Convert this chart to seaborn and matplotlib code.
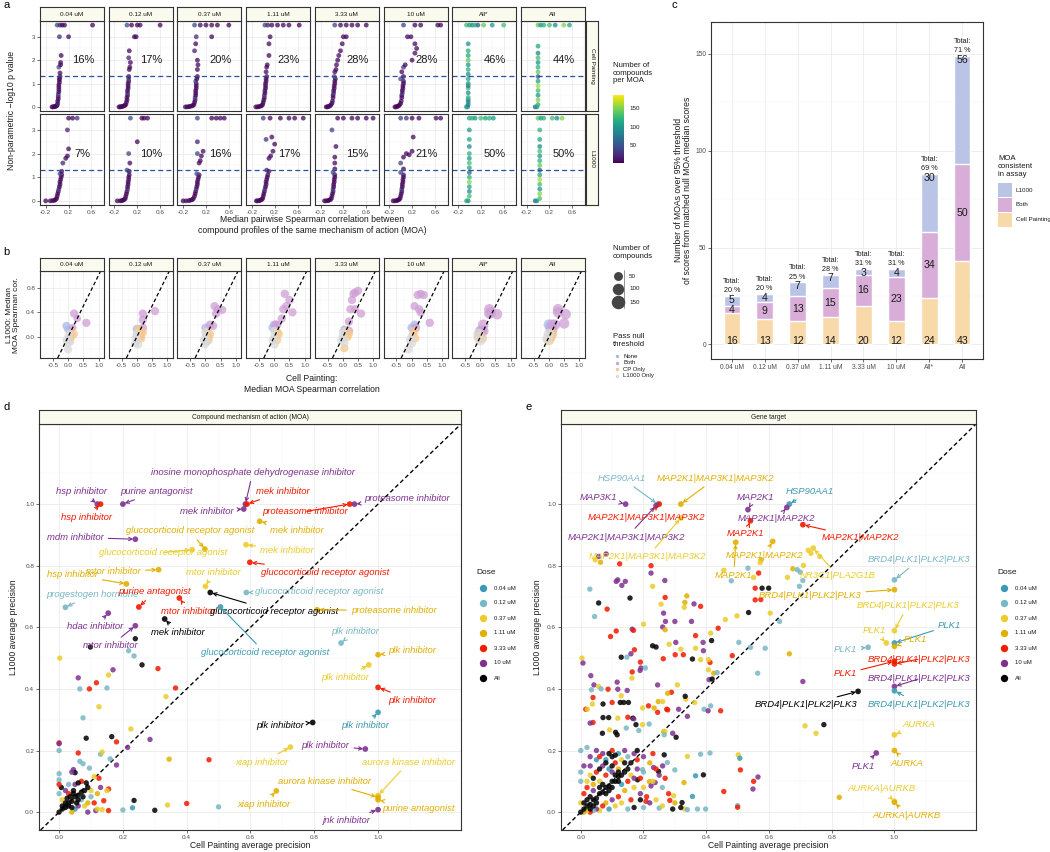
import matplotlib
matplotlib.use('Agg')
import matplotlib.pyplot as plt
import matplotlib as mpl
import numpy as np
import pandas as pd
import seaborn as sns

# ----------------------------------------------------------------- data
DOSES = ['0.04 uM', '0.12 uM', '0.37 uM', '1.11 uM', '3.33 uM', '10 uM', 'All*', 'All']

# panel a : (median pairwise spearman, -log10 p, number of compounds per MOA)
a_cp_004 = [(-0.09,0,6),(-0.07,0,5),(-0.05,0.01,7),(-0.04,0.02,5),(-0.02,0.03,6),(-0.01,0.05,5),(0.0,0.08,8),(0.01,0.15,25),(0.01,0.25,5),(0.02,0.35,6),(0.02,0.45,5),(0.02,0.55,40),(0.03,0.65,6),(0.03,0.75,5),(0.03,0.85,7),(0.03,0.95,5),(0.04,1.05,6),(0.04,1.15,5),(0.04,1.22,9),(0.05,1.3,5),(0.05,1.45,6),(0.03,1.7,45),(0.06,1.8,5),(0.06,1.9,7),(0.07,2.2,5),(0.04,3.0,25),(0.2,3.0,6),(0.0,3.5,45),(0.05,3.5,20),(0.09,3.5,6),(0.13,3.5,8),(0.62,3.5,6)]
a_cp_012 = [(-0.12,0,5),(-0.1,0,6),(-0.08,0.01,5),(-0.06,0.02,7),(-0.04,0.04,5),(-0.02,0.06,6),(0.0,0.1,5),(0.01,0.2,8),(0.02,0.3,5),(0.02,0.4,6),(0.03,0.5,5),(0.03,0.6,30),(0.03,0.7,5),(0.04,0.8,6),(0.04,0.9,5),(0.04,1.0,7),(0.05,1.1,5),(0.05,1.2,40),(0.05,1.3,6),(0.06,1.6,5),(0.07,1.7,6),(0.08,1.9,5),(0.05,2.1,20),(0.06,2.4,6),(0.15,3.0,5),(0.18,3.0,7),(0.02,3.5,50),(0.1,3.5,6),(0.2,3.5,5),(0.25,3.5,7),(0.6,3.5,6)]
a_cp_037 = [(-0.16,0,5),(-0.13,0,6),(-0.1,0.01,5),(-0.08,0.02,6),(-0.05,0.04,5),(-0.03,0.06,7),(-0.01,0.1,5),(0.0,0.2,6),(0.01,0.3,5),(0.01,0.4,30),(0.02,0.5,5),(0.02,0.6,6),(0.02,0.7,5),(0.03,0.8,7),(0.03,0.9,5),(0.03,1.0,6),(0.02,1.1,40),(0.04,1.2,5),(0.05,1.3,6),(0.05,1.6,5),(0.06,1.8,7),(0.05,2.0,5),(0.0,2.4,20),(0.02,2.7,6),(0.03,3.0,25),(0.3,3.0,5),(0.0,3.5,45),(0.1,3.5,6),(0.2,3.5,5),(0.3,3.5,7),(0.4,3.5,6),(0.6,3.5,5)]
a_cp_111 = [(-0.13,0,5),(-0.1,0,6),(-0.08,0.01,5),(-0.05,0.03,6),(-0.03,0.05,5),(-0.01,0.1,7),(0.0,0.2,5),(0.01,0.3,6),(0.02,0.4,5),(0.02,0.5,30),(0.03,0.6,5),(0.03,0.7,6),(0.04,0.8,5),(0.04,0.9,7),(0.04,1.0,5),(0.05,1.1,6),(0.05,1.2,5),(0.06,1.3,6),(0.05,1.5,7),(0.06,1.7,5),(0.07,1.8,6),(0.1,2.2,5),(0.1,2.7,6),(0.12,3.0,5),(0.03,3.5,40),(0.08,3.5,20),(0.15,3.5,6),(0.25,3.5,5),(0.35,3.5,7),(0.45,3.5,6),(0.63,3.5,5)]
a_cp_333 = [(-0.1,0,5),(-0.08,0,6),(-0.06,0.02,5),(-0.04,0.04,6),(-0.02,0.08,5),(0.0,0.15,7),(0.01,0.25,5),(0.02,0.4,6),(0.02,0.5,5),(0.03,0.6,30),(0.03,0.7,5),(0.04,0.8,6),(0.04,0.9,5),(0.05,1.0,7),(0.05,1.1,5),(0.06,1.2,6),(0.04,1.3,40),(0.05,1.5,6),(0.07,1.6,5),(0.08,1.8,6),(0.1,2.0,5),(0.12,2.2,7),(0.15,2.4,5),(0.18,2.7,6),(0.2,3.0,5),(0.25,3.0,6),(0.05,3.5,40),(0.15,3.5,6),(0.25,3.5,5),(0.35,3.5,7),(0.45,3.5,6),(0.6,3.5,5)]
a_cp_10 = [(-0.1,0,5),(-0.08,0,6),(-0.06,0.02,5),(-0.04,0.04,6),(-0.02,0.08,5),(0.0,0.15,7),(0.01,0.25,5),(0.02,0.4,6),(0.02,0.5,5),(0.03,0.6,30),(0.03,0.7,5),(0.04,0.8,6),(0.04,0.9,5),(0.05,1.0,7),(0.05,1.1,5),(0.0,1.2,40),(0.05,1.3,6),(0.02,1.5,5),(0.05,1.7,30),(0.08,1.8,6),(0.2,2.0,5),(0.25,2.3,7),(0.28,2.5,5),(0.25,2.7,6),(0.12,3.0,5),(0.18,3.0,6),(0.05,3.5,40),(0.25,3.5,6),(0.35,3.5,5),(0.65,3.5,7),(0.7,3.5,6)]
a_cp_allstar = [(-0.05,0,90),(-0.03,0,110),(-0.02,0.1,70),(-0.02,0.2,100),(-0.02,0.3,80),(-0.02,0.4,120),(-0.02,0.6,95),(-0.02,0.8,130),(-0.02,0.9,75),(-0.02,1.0,100),(-0.02,1.2,110),(-0.02,1.4,90),(-0.02,1.6,120),(-0.02,1.8,100),(-0.02,2.0,140),(-0.02,2.2,110),(-0.02,2.4,120),(-0.02,2.7,100),(-0.05,3.5,130),(0.0,3.5,110),(0.05,3.5,90),(0.1,3.5,120),(0.15,3.5,60),(0.25,3.5,140),(0.4,3.5,100),(0.6,3.5,130)]
a_cp_all = [(-0.05,0,60),(-0.02,0,100),(0.0,0.1,120),(0.0,0.3,150),(0.0,0.5,100),(0.0,0.7,130),(0.0,0.9,160),(0.0,1.1,110),(0.0,1.3,60),(0.0,1.5,140),(0.0,1.7,120),(0.0,1.9,100),(0.0,2.1,130),(0.0,2.3,90),(0.0,2.6,110),(0.0,3.5,140),(0.05,3.5,100),(0.1,3.5,120),(0.2,3.5,130),(0.3,3.5,90),(0.45,3.5,150),(0.55,3.5,110)]
a_l1_004 = [(-0.2,0,5),(-0.12,0,6),(-0.08,0.01,5),(-0.05,0.02,6),(-0.03,0.05,5),(-0.01,0.1,7),(0.0,0.2,5),(0.01,0.3,6),(0.02,0.4,5),(0.03,0.5,30),(0.04,0.6,5),(0.05,0.7,6),(0.05,0.8,5),(0.06,0.9,7),(0.07,1.0,5),(0.08,1.1,6),(0.05,1.15,40),(0.08,1.25,5),(0.1,1.6,20),(0.15,1.8,6),(0.18,1.9,5),(0.2,2.2,6),(0.18,3.0,20),(0.2,3.5,6),(0.27,3.5,5),(0.35,3.5,30)]
a_l1_012 = [(-0.15,0,5),(-0.1,0,6),(-0.07,0.01,5),(-0.05,0.03,6),(-0.03,0.05,5),(-0.01,0.1,7),(0.0,0.2,5),(0.01,0.3,6),(0.02,0.4,5),(0.03,0.5,30),(0.03,0.6,5),(0.04,0.7,6),(0.04,0.8,5),(0.05,0.9,7),(0.05,1.0,5),(0.06,1.1,6),(0.02,1.3,40),(0.06,1.25,5),(0.05,2.0,40),(0.07,1.6,6),(0.2,2.5,5),(0.08,3.5,45),(0.28,3.5,6),(0.32,3.5,5),(0.38,3.5,7)]
a_l1_037 = [(-0.2,0,5),(-0.15,0,6),(-0.1,0.01,5),(-0.07,0.03,6),(-0.04,0.05,5),(-0.02,0.1,7),(0.0,0.2,5),(0.01,0.3,6),(0.02,0.4,5),(0.03,0.5,30),(0.04,0.6,5),(0.05,0.7,6),(0.05,0.8,5),(0.06,0.9,7),(0.07,1.0,5),(0.08,1.1,6),(0.04,1.15,40),(0.08,1.6,5),(0.05,2.0,40),(0.1,1.7,6),(0.12,1.9,5),(0.15,2.1,6),(0.05,2.5,20),(0.05,3.5,45),(0.3,3.5,6),(0.38,3.5,5),(0.45,3.5,7),(0.52,3.5,6)]
a_l1_111 = [(-0.12,0,5),(-0.1,0,6),(-0.07,0.01,5),(-0.05,0.03,6),(-0.03,0.05,5),(-0.01,0.1,7),(0.0,0.2,5),(0.01,0.3,6),(0.02,0.4,5),(0.03,0.5,30),(0.04,0.6,5),(0.05,0.7,6),(0.05,0.8,5),(0.06,0.9,7),(0.07,1.0,5),(0.08,1.1,6),(0.06,1.3,20),(0.1,1.25,5),(0.1,1.8,6),(0.13,1.9,5),(0.17,2.1,6),(0.2,2.4,5),(0.15,2.7,6),(0.05,2.6,30),(0.0,3.5,40),(0.12,3.5,6),(0.3,3.5,5),(0.45,3.5,7),(0.55,3.5,6),(0.7,3.5,5)]
a_l1_333 = [(-0.13,0,5),(-0.1,0,6),(-0.07,0.01,5),(-0.05,0.03,6),(-0.03,0.05,5),(-0.01,0.1,7),(0.0,0.2,5),(0.01,0.3,6),(0.02,0.4,5),(0.02,0.5,30),(0.03,0.6,5),(0.03,0.7,6),(0.04,0.8,5),(0.04,0.9,7),(0.05,1.0,5),(0.05,1.1,6),(0.02,1.2,40),(0.05,1.35,5),(0.05,1.6,6),(0.05,1.85,5),(0.07,2.3,6),(0.0,3.0,40),(0.1,3.5,6),(0.2,3.5,5),(0.35,3.5,7),(0.45,3.5,6),(0.6,3.5,5),(0.72,3.5,6)]
a_l1_10 = [(-0.13,0,5),(-0.1,0,6),(-0.07,0.01,5),(-0.05,0.03,6),(-0.03,0.05,5),(-0.01,0.1,7),(0.0,0.2,5),(0.01,0.3,6),(0.02,0.4,5),(0.02,0.5,30),(0.03,0.6,5),(0.03,0.7,6),(0.04,0.8,5),(0.04,0.9,7),(0.05,1.0,5),(0.05,1.1,6),(0.0,1.2,40),(0.05,1.35,5),(0.0,1.6,40),(0.05,1.85,5),(0.1,2.0,6),(0.15,1.95,5),(0.2,2.1,6),(0.22,2.7,5),(0.0,3.5,40),(0.1,3.5,30),(0.2,3.5,6),(0.32,3.5,5),(0.62,3.5,7),(0.7,3.5,6)]
a_l1_allstar = [(-0.05,0,120),(-0.02,0,100),(0.0,0.2,130),(0.0,0.4,90),(0.0,0.6,110),(0.0,0.8,150),(0.0,1.0,120),(0.0,1.2,60),(0.0,1.4,110),(0.0,1.6,130),(0.0,1.8,100),(0.0,2.0,120),(0.0,2.3,90),(0.0,2.6,110),(0.0,3.0,100),(0.0,3.5,110),(0.05,3.5,120),(0.1,3.5,100),(0.2,3.5,130),(0.28,3.5,110),(0.35,3.5,120),(0.42,3.5,100)]
a_l1_all = [(-0.05,0,60),(-0.02,0,100),(0.03,0.1,130),(0.03,0.3,150),(0.03,0.5,100),(0.03,0.7,130),(0.03,0.9,160),(0.03,1.1,110),(0.03,1.3,60),(0.03,1.5,140),(0.03,1.7,120),(0.03,1.9,100),(0.03,2.1,130),(0.03,2.3,90),(0.03,2.6,110),(0.03,3.0,120),(0.0,3.5,140),(0.05,3.5,100),(0.1,3.5,120),(0.25,3.5,130),(0.33,3.5,90),(0.42,3.5,150)]
a_pct_cp = ['16%', '17%', '20%', '23%', '28%', '28%', '46%', '44%']
a_pct_l1 = ['7%', '10%', '16%', '17%', '15%', '21%', '50%', '50%']

# panel b : (CP median cor, L1000 median cor, pass-null group, number of compounds)
b_004 = [(-0.05,0.18,'None',40),(0.0,0.12,'None',30),(0.2,0.38,'Both',40),(0.3,0.3,'Both',30),(0.6,0.23,'Both',40),(0.15,0.15,'Both',30),(0.1,0.05,'CP Only',40),(0.2,0.05,'CP Only',30),(0.05,-0.05,'CP Only',40),(0.12,0.0,'CP Only',30),(0.0,-0.2,'L1000 Only',40),(0.0,0.0,'L1000 Only',30),(-0.05,-0.05,'L1000 Only',40),(0.05,0.05,'L1000 Only',30),(-0.02,-0.1,'L1000 Only',40),(0.08,-0.08,'L1000 Only',30)]
b_012 = [(0.0,0.13,'None',40),(0.2,0.38,'Both',40),(0.6,0.42,'Both',40),(0.2,0.28,'Both',40),(0.2,0.15,'Both',40),(0.1,0.1,'CP Only',40),(0.15,0.05,'CP Only',40),(0.2,0.08,'CP Only',40),(0.1,0.0,'CP Only',40),(0.15,-0.02,'CP Only',40),(0.05,0.12,'CP Only',40),(0.0,-0.05,'L1000 Only',40),(-0.05,-0.1,'L1000 Only',40),(0.0,0.05,'L1000 Only',40),(0.05,-0.12,'L1000 Only',40),(-0.02,0.0,'L1000 Only',40)]
b_037 = [(0.0,0.15,'None',40),(0.3,0.5,'Both',40),(0.4,0.45,'Both',40),(0.35,0.38,'Both',40),(0.55,0.44,'Both',40),(0.15,0.2,'Both',40),(0.25,0.18,'Both',40),(0.1,0.0,'CP Only',40),(0.1,-0.05,'CP Only',40),(0.05,0.08,'CP Only',40),(0.15,0.05,'CP Only',40),(0.0,0.0,'L1000 Only',40),(-0.05,-0.05,'L1000 Only',40),(0.0,0.08,'L1000 Only',40),(-0.02,-0.12,'L1000 Only',40),(0.05,-0.08,'L1000 Only',40)]
b_111 = [(0.0,0.2,'None',40),(-0.05,0.15,'None',40),(0.35,0.7,'Both',40),(0.5,0.6,'Both',40),(0.3,0.45,'Both',40),(0.4,0.5,'Both',40),(0.6,0.4,'Both',40),(0.25,0.3,'Both',40),(0.1,0.2,'Both',40),(0.05,0.2,'Both',40),(0.1,-0.05,'CP Only',40),(0.15,0.05,'CP Only',40),(0.1,0.08,'CP Only',40),(0.0,0.0,'L1000 Only',40),(-0.05,-0.05,'L1000 Only',40),(0.0,0.1,'L1000 Only',40),(0.02,-0.12,'L1000 Only',40)]
b_333 = [(0.05,0.12,'None',40),(0.5,0.75,'Both',40),(0.4,0.72,'Both',40),(0.3,0.6,'Both',40),(0.35,0.7,'Both',40),(0.25,0.45,'Both',40),(0.4,0.45,'Both',40),(0.6,0.38,'Both',40),(0.2,0.25,'Both',40),(0.2,0.1,'Both',40),(0.05,-0.18,'CP Only',40),(0.15,0.0,'CP Only',40),(0.2,0.05,'CP Only',40),(0.1,0.1,'CP Only',40),(0.0,0.0,'L1000 Only',40),(-0.05,-0.05,'L1000 Only',40),(0.0,0.08,'L1000 Only',40),(0.05,-0.1,'L1000 Only',40)]
b_10 = [(0.1,0.2,'None',40),(0.0,0.15,'None',40),(0.1,0.5,'Both',40),(0.2,0.68,'Both',40),(0.3,0.7,'Both',40),(0.4,0.68,'Both',40),(0.25,0.45,'Both',40),(0.3,0.4,'Both',40),(0.6,0.23,'Both',40),(0.15,0.15,'Both',40),(0.1,0.1,'CP Only',40),(0.05,0.05,'CP Only',40),(0.12,-0.02,'CP Only',40),(-0.1,-0.2,'L1000 Only',40),(0.0,0.0,'L1000 Only',40),(-0.05,-0.05,'L1000 Only',40),(0.02,-0.1,'L1000 Only',40)]
b_allstar = [(0.0,0.1,'None',80),(0.3,0.45,'Both',80),(0.35,0.4,'Both',80),(0.3,0.38,'Both',80),(0.55,0.37,'Both',80),(0.1,0.2,'Both',80),(0.05,0.1,'Both',80),(0.0,0.05,'Both',80),(0.1,0.1,'Both',80),(0.0,0.0,'CP Only',80),(-0.05,0.0,'CP Only',80),(0.05,-0.02,'CP Only',80),(0.0,-0.05,'L1000 Only',80),(-0.05,0.05,'L1000 Only',80)]
b_all = [(0.0,0.2,'None',80),(0.05,0.15,'None',80),(0.3,0.45,'Both',80),(0.3,0.4,'Both',80),(0.55,0.37,'Both',80),(0.5,0.22,'Both',80),(0.1,0.2,'Both',80),(0.2,0.2,'Both',80),(0.1,0.1,'Both',80),(0.05,0.0,'CP Only',80),(0.0,-0.05,'CP Only',80),(0.1,0.05,'CP Only',80),(0.0,0.05,'L1000 Only',80),(-0.05,-0.03,'L1000 Only',80)]
PASS_LEVELS = ['None', 'Both', 'CP Only', 'L1000 Only']

# panel c
c_cell_painting = [16, 13, 12, 14, 20, 12, 24, 43]
c_both = [4, 9, 13, 15, 16, 23, 34, 50]
c_l1000 = [5, 4, 7, 7, 3, 4, 30, 56]
c_total_pct = [20, 20, 25, 28, 31, 31, 69, 71]

# panels d / e : dose codes
DOSE_CODES = ['t', 'b', 'y', 'g', 'r', 'p', 'k']
DOSE_NAMES = ['0.04 uM', '0.12 uM', '0.37 uM', '1.11 uM', '3.33 uM', '10 uM', 'All']

d_labels = [
    (0.584,1.0,'p','inosine monophosphate dehydrogenase inhibitor'),(0.589,1.0,'r','mek inhibitor'),
    (0.12,1.0,'p','hsp inhibitor'),(0.2,1.0,'p','purine antagonist'),(0.926,1.0,'p','proteasome inhibitor'),
    (0.911,1.0,'r','proteasome inhibitor'),(0.13,1.0,'r','hsp inhibitor'),(0.579,0.984,'p','mek inhibitor'),
    (0.457,0.854,'g','glucocorticoid receptor agonist'),(0.629,0.944,'g','mek inhibitor'),(0.239,0.886,'p','mdm inhibitor'),
    (0.417,0.852,'y','glucocorticoid receptor agonist'),(0.586,0.868,'y','mek inhibitor'),(0.598,0.811,'r','glucocorticoid receptor agonist'),
    (0.211,0.741,'g','hsp inhibitor'),(0.312,0.787,'g','mtor inhibitor'),(0.459,0.733,'y','mtor inhibitor'),
    (0.02,0.665,'b','progestogen hormone'),(0.25,0.666,'r','purine antagonist'),(0.587,0.713,'b','glucocorticoid receptor agonist'),
    (0.377,0.695,'r','mtor inhibitor'),(0.474,0.713,'k','glucocorticoid receptor agonist'),(0.809,0.657,'g','proteasome inhibitor'),
    (0.154,0.646,'p','hdac inhibitor'),(0.331,0.627,'k','mek inhibitor'),(0.239,0.605,'p','mtor inhibitor'),
    (0.506,0.666,'t','glucocorticoid receptor agonist'),(0.884,0.549,'b','plk inhibitor'),(1.0,0.511,'g','plk inhibitor'),
    (0.971,0.478,'y','plk inhibitor'),(1.0,0.405,'r','plk inhibitor'),(0.795,0.291,'k','plk inhibitor'),
    (1.0,0.324,'t','plk inhibitor'),(0.96,0.205,'p','plk inhibitor'),(0.725,0.211,'y','xiap inhibitor'),
    (1.0,0.054,'y','aurora kinase inhibitor'),(1.0,0.048,'g','aurora kinase inhibitor'),(0.681,0.069,'g','xiap inhibitor'),
    (1.0,0.04,'g','purine antagonist'),(1.0,0.008,'p','jnk inhibitor')]
d_label_pos = [(0.607,1.103),(0.702,1.041),(0.070,1.041),(0.305,1.041),(1.091,1.017),(0.772,0.976),(0.086,0.957),
    (0.464,0.976),(0.41,0.913),(0.744,0.913),(0.051,0.892),(0.326,0.843),(0.715,0.85),(0.833,0.779),(0.041,0.771),
    (0.171,0.781),(0.485,0.779),(0.103,0.706),(0.30,0.715),(0.814,0.715),(0.406,0.652),(0.673,0.652),(1.049,0.654),
    (0.114,0.603),(0.372,0.583),(0.161,0.540),(0.645,0.518),(0.927,0.587),(1.106,0.524),(0.898,0.437),(1.106,0.363),
    (0.692,0.28),(0.96,0.28),(0.835,0.216),(0.636,0.162),(1.096,0.162),(0.832,0.10),(0.642,0.026),(1.127,0.011),(0.898,-0.028)]
d_points = [(0.002,0.50,'y'),(0.098,0.536,'k'),(0.239,0.563,'k'),(0.218,0.524,'b'),(0.235,0.507,'b'),(0.26,0.478,'k'),(0.31,0.466,'r'),
    (0.169,0.462,'p'),(0.06,0.436,'p'),(0.155,0.445,'y'),(0.065,0.40,'b'),(0.095,0.40,'r'),(0.117,0.42,'r'),(0.15,0.403,'b'),
    (0.365,0.403,'r'),(0.075,0.306,'b'),(0.125,0.342,'y'),(0.335,0.375,'y'),(0.165,0.245,'k'),(0.085,0.24,'k'),(0.225,0.27,'y'),
    (0.18,0.228,'r'),(0.0,0.225,'r'),(0.0,0.222,'p'),(0.0,0.2,'b'),(0.285,0.236,'p'),(0.215,0.21,'p'),(0.13,0.188,'b'),
    (0.135,0.195,'y'),(0.06,0.192,'r'),(0.16,0.173,'b'),(0.18,0.153,'p'),(0.345,0.172,'g'),(0.47,0.17,'r'),(0.065,0.165,'b'),
    (0.075,0.157,'b'),(0.0,0.125,'b'),(0.0,0.105,'b'),(0.085,0.095,'k'),(0.095,0.143,'b'),(0.125,0.11,'r'),(0.11,0.115,'y'),
    (0.155,0.075,'r'),(0.15,0.07,'y'),(0.14,0.037,'r'),(0.235,0.038,'k'),(0.3,0.006,'k'),(0.2,0.007,'b'),(0.23,0.014,'t'),
    (0.34,0.023,'y'),(0.4,0.028,'r'),(0.5,0.017,'b'),(0.155,0.005,'r'),(0.115,0.005,'p'),(0.135,0.008,'y'),(0.045,0.138,'p'),
    (0.05,0.128,'k'),(0.007,0.08,'k'),(0.02,0.02,'t'),(0.05,0.01,'t'),(0.0,0.06,'b'),(0.03,0.09,'b'),(0.07,0.04,'b'),
    (0.01,0.04,'y'),(0.08,0.02,'y'),(0.1,0.07,'y'),(0.12,0.01,'y'),(0.04,0.0,'g'),(0.09,0.03,'g'),(0.0,0.09,'r'),
    (0.03,0.06,'r'),(0.07,0.1,'r'),(0.11,0.03,'r'),(0.02,0.07,'p'),(0.05,0.09,'p'),(0.09,0.0,'p'),(0.06,0.02,'p'),
    (0.04,0.13,'p'),(0.1,0.05,'b'),(0.12,0.06,'g'),(0.13,0.08,'p'),(0.0,0.0,'k'),(0.01,0.01,'k'),(0.02,0.015,'k'),
    (0.03,0.03,'k'),(0.04,0.035,'k'),(0.05,0.05,'k'),(0.06,0.055,'k'),(0.07,0.065,'k'),(0.08,0.07,'k'),(0.02,0.03,'k'),
    (0.03,0.02,'k'),(0.045,0.06,'k'),(0.06,0.04,'k'),(0.01,0.02,'k'),(0.035,0.05,'k'),(0.055,0.03,'k'),(0.09,0.08,'k'),
    (0.04,0.015,'k'),(0.06,0.095,'k'),(0.045,0.07,'k'),(0.025,0.045,'k'),(0.075,0.05,'k')]

e_labels = [
    (0.245,1.0,'b','HSP90AA1'),(0.319,1.0,'g','MAP2K1|MAP3K1|MAP3K2'),(0.143,1.0,'p','MAP3K1'),
    (0.25,1.0,'r','MAP2K1|MAP3K1|MAP3K2'),(0.24,0.995,'p','MAP2K1|MAP3K1|MAP3K2'),(0.319,0.955,'y','MAP2K1|MAP3K1|MAP3K2'),
    (0.533,0.982,'p','MAP2K1'),(0.665,1.0,'t','HSP90AA1'),(0.657,0.989,'p','MAP2K1|MAP2K2'),(0.541,0.946,'r','MAP2K1'),
    (0.708,0.933,'r','MAP2K1|MAP2K2'),(0.612,0.879,'g','MAP2K1|MAP2K2'),(0.494,0.876,'g','MAP2K1'),(0.741,0.857,'y','NR3C1|PLA2G1B'),
    (1.0,0.754,'b','BRD4|PLK1|PLK2|PLK3'),(1.0,0.722,'g','BRD4|PLK1|PLK2|PLK3'),(1.0,0.589,'y','BRD4|PLK1|PLK2|PLK3'),
    (1.0,0.549,'t','PLK1'),(0.974,0.549,'y','PLK1'),(1.0,0.538,'g','PLK1'),(0.916,0.535,'b','PLK1'),
    (1.0,0.481,'r','BRD4|PLK1|PLK2|PLK3'),(1.0,0.49,'r','PLK1'),(1.0,0.408,'p','BRD4|PLK1|PLK2|PLK3'),
    (0.884,0.392,'k','BRD4|PLK1|PLK2|PLK3'),(1.0,0.394,'t','BRD4|PLK1|PLK2|PLK3'),(1.0,0.251,'y','AURKA'),
    (1.0,0.2,'g','AURKA'),(0.942,0.192,'p','PLK1'),(1.0,0.035,'y','AURKA|AURKB'),(1.0,0.032,'g','AURKA|AURKB')]
e_label_pos = [(0.132,1.084),(0.43,1.084),(0.055,1.022),(0.209,0.955),(0.147,0.893),(0.213,0.829),(0.556,1.022),
    (0.731,1.041),(0.625,0.952),(0.525,0.906),(0.892,0.89),(0.586,0.834),(0.488,0.768),(0.82,0.767),(1.079,0.819),
    (0.731,0.703),(1.042,0.67),(1.176,0.606),(0.935,0.59),(1.065,0.56),(0.844,0.527),(1.079,0.497),(0.842,0.449),
    (1.079,0.433),(0.718,0.348),(1.079,0.351),(1.079,0.286),(1.04,0.159),(0.902,0.148),(0.958,0.076),(1.04,-0.011)]
e_points = [(0.057,0.830,'p'),(0.081,0.838,'p'),(0.046,0.819,'y'),(0.063,0.811,'g'),(0.124,0.806,'r'),(0.224,0.800,'r'),
    (0.224,0.776,'p'),(0.229,0.733,'y'),(0.118,0.754,'p'),(0.113,0.749,'p'),(0.142,0.749,'p'),(0.131,0.736,'p'),
    (0.057,0.679,'k'),(0.157,0.695,'k'),(0.044,0.635,'b'),(0.268,0.752,'p'),(0.269,0.697,'r'),(0.256,0.675,'y'),
    (0.264,0.646,'p'),(0.27,0.619,'p'),(0.261,0.601,'p'),(0.269,0.592,'g'),(0.3,0.619,'p'),(0.332,0.681,'g'),
    (0.338,0.702,'g'),(0.33,0.665,'y'),(0.361,0.676,'p'),(0.382,0.668,'r'),(0.353,0.619,'p'),(0.303,0.551,'p'),
    (0.282,0.545,'y'),(0.366,0.573,'r'),(0.366,0.532,'y'),(0.391,0.524,'p'),(0.319,0.529,'y'),(0.301,0.511,'r'),
    (0.327,0.511,'r'),(0.356,0.497,'k'),(0.263,0.498,'r'),(0.229,0.540,'k'),(0.24,0.536,'k'),(0.129,0.503,'k'),
    (0.147,0.503,'b'),(0.095,0.570,'r'),(0.113,0.588,'r'),(0.164,0.594,'p'),(0.168,0.59,'r'),(0.2,0.61,'y'),
    (0.084,0.659,'r'),(0.029,0.724,'b'),(0.004,0.50,'y'),(0.007,0.484,'p'),(0.032,0.443,'p'),(0.042,0.413,'p'),
    (0.057,0.408,'y'),(0.065,0.400,'b'),(0.034,0.397,'b'),(0.087,0.399,'r'),(0.039,0.372,'r'),(0.037,0.351,'y'),
    (0.016,0.334,'r'),(0.021,0.334,'y'),(0.071,0.351,'k'),(0.1,0.356,'r'),(0.126,0.356,'k'),(0.137,0.356,'k'),
    (0.152,0.356,'k'),(0.129,0.378,'y'),(0.118,0.399,'p'),(0.148,0.395,'p'),(0.116,0.422,'p'),(0.163,0.435,'y'),
    (0.164,0.455,'r'),(0.189,0.46,'p'),(0.192,0.468,'p'),(0.206,0.468,'b'),(0.19,0.487,'r'),(0.171,0.527,'r'),
    (0.16,0.514,'p'),(0.071,0.307,'k'),(0.089,0.307,'k'),(0.039,0.291,'r'),(0.03,0.289,'p'),(0.069,0.256,'k'),
    (0.111,0.259,'k'),(0.116,0.251,'k'),(0.092,0.267,'y'),(0.15,0.308,'r'),(0.166,0.305,'k'),(0.169,0.303,'p'),
    (0.145,0.273,'b'),(0.185,0.265,'b'),(0.176,0.284,'k'),(0.197,0.284,'y'),(0.118,0.305,'y'),(0.216,0.345,'r'),
    (0.197,0.338,'y'),(0.234,0.338,'g'),(0.247,0.359,'g'),(0.274,0.334,'r'),(0.312,0.334,'p'),(0.34,0.311,'p'),
    (0.335,0.367,'y'),(0.363,0.356,'y'),(0.289,0.389,'r'),(0.308,0.413,'y'),(0.277,0.386,'g'),(0.245,0.413,'p'),
    (0.261,0.359,'y'),(0.277,0.332,'r'),(0.264,0.262,'y'),(0.268,0.262,'y'),(0.266,0.251,'b'),(0.293,0.256,'p'),
    (0.304,0.243,'k'),(0.333,0.376,'k'),(0.245,0.324,'r'),(0.218,0.286,'b'),(0.393,0.334,'b'),(0.406,0.329,'p'),
    (0.414,0.345,'b'),(0.446,0.329,'r'),(0.409,0.43,'p'),(0.419,0.432,'k'),(0.424,0.451,'g'),(0.435,0.453,'b'),
    (0.407,0.462,'y'),(0.412,0.486,'r'),(0.382,0.495,'y'),(0.407,0.495,'y'),(0.39,0.551,'p'),(0.417,0.557,'k'),
    (0.414,0.581,'y'),(0.438,0.597,'r'),(0.461,0.625,'y'),(0.498,0.637,'y'),(0.535,0.648,'k'),(0.604,0.646,'y'),
    (0.634,0.619,'b'),(0.504,0.551,'b'),(0.541,0.535,'b'),(0.588,0.532,'b'),(0.564,0.451,'b'),(0.483,0.508,'r'),
    (0.556,0.689,'r'),(0.556,0.727,'r'),(0.574,0.69,'r'),(0.578,0.727,'k'),(0.599,0.727,'k'),(0.567,0.776,'r'),
    (0.575,0.819,'g'),(0.48,0.751,'b'),(0.456,0.785,'y'),(0.533,0.792,'b'),(0.551,0.762,'y'),(0.572,0.81,'y'),
    (0.676,0.79,'g'),(0.71,0.801,'y'),(0.69,0.787,'b'),(0.7,0.779,'b'),(0.708,0.752,'b'),(0.697,0.733,'b'),
    (0.659,0.762,'y'),(0.665,0.514,'g'),(0.725,0.85,'y'),(0.734,0.84,'y'),(0.762,0.83,'y'),(0.708,0.424,'p'),
    (0.715,0.28,'y'),(0.75,0.256,'y'),(0.775,0.284,'k'),(0.824,0.048,'g'),(0.549,0.075,'p'),(0.551,0.1,'r'),
    (0.565,0.114,'p'),(0.5,0.021,'b'),(0.5,0.016,'r'),(0.502,0.186,'y'),(0.507,0.175,'t'),(0.509,0.137,'r'),
    (0.456,0.067,'r'),(0.391,0.121,'k'),(0.412,0.192,'b'),(0.382,0.188,'b'),(0.366,0.118,'t'),(0.34,0.181,'y'),
    (0.356,0.051,'t'),(0.329,0.096,'g'),(0.323,0.031,'k'),(0.331,0.01,'y'),(0.296,0.053,'y'),(0.3,0.137,'b'),
    (0.266,0.186,'k'),(0.261,0.15,'p'),(0.232,0.145,'p'),(0.237,0.096,'p'),(0.219,0.099,'g'),(0.248,0.132,'k'),
    (0.269,0.11,'r'),(0.276,0.161,'b'),(0.25,0.013,'b'),(0.293,0.01,'k'),(0.398,0.01,'b'),(0.372,0.01,'b'),
    (0.34,0.008,'b'),(0.319,0.015,'k'),(0.284,0.038,'r'),(0.208,0.035,'r'),(0.197,0.138,'b'),(0.181,0.105,'k'),
    (0.224,0.085,'p'),
    (0.0,0.2,'b'),(0.02,0.21,'b'),(0.05,0.17,'t'),(0.07,0.19,'p'),(0.1,0.18,'k'),(0.12,0.19,'t'),(0.08,0.17,'t'),
    (0.06,0.18,'r'),(0.03,0.15,'p'),(0.0,0.13,'b'),(0.02,0.1,'y'),(0.01,0.06,'r'),(0.04,0.09,'g'),(0.03,0.12,'y'),
    (0.05,0.13,'r'),(0.07,0.15,'p'),(0.09,0.14,'t'),(0.11,0.16,'r'),(0.13,0.17,'y'),(0.15,0.18,'b'),(0.17,0.19,'p'),
    (0.18,0.17,'r'),(0.16,0.12,'y'),(0.18,0.14,'p'),(0.19,0.11,'r'),(0.2,0.13,'b'),(0.17,0.08,'y'),(0.19,0.06,'p'),
    (0.16,0.04,'r'),(0.14,0.07,'g'),(0.13,0.03,'y'),(0.15,0.01,'b'),(0.12,0.05,'r'),(0.1,0.04,'p'),(0.11,0.02,'y'),
    (0.09,0.01,'t'),(0.08,0.03,'g'),(0.07,0.02,'r'),(0.06,0.005,'y'),(0.05,0.01,'p'),(0.04,0.005,'b'),(0.03,0.0,'r'),
    (0.02,0.005,'y'),(0.01,0.0,'g'),(0.06,0.1,'y'),(0.08,0.12,'r'),(0.1,0.13,'p'),(0.12,0.14,'g'),(0.04,0.07,'p'),
    (0.02,0.08,'r'),(0.13,0.09,'t'),(0.15,0.1,'r'),(0.17,0.11,'p'),(0.2,0.08,'y'),(0.21,0.05,'r'),(0.22,0.03,'p'),
    (0.23,0.1,'y'),(0.24,0.14,'r'),(0.25,0.12,'p'),(0.26,0.08,'b'),(0.22,0.16,'g'),(0.2,0.18,'p'),(0.18,0.2,'k'),
    (0.23,0.19,'r'),(0.14,0.2,'p'),(0.1,0.2,'r'),(0.0,0.1,'b'),(0.0,0.03,'y'),(0.01,0.15,'p'),(0.03,0.18,'p'),
    (0.05,0.2,'p'),(0.09,0.19,'k'),(0.11,0.185,'k'),(0.08,0.16,'k'),(0.06,0.14,'k'),(0.04,0.11,'k'),(0.1,0.15,'k'),
    (0.12,0.13,'k'),(0.14,0.16,'k'),(0.19,0.04,'k'),(0.17,0.015,'k'),(0.2,0.015,'b'),(0.24,0.04,'y'),(0.26,0.02,'y'),
    (0.28,0.06,'r'),(0.3,0.03,'g'),
    (0.0,0.0,'k'),(0.01,0.01,'k'),(0.02,0.02,'k'),(0.03,0.025,'k'),(0.04,0.04,'k'),(0.05,0.045,'k'),(0.06,0.06,'k'),
    (0.07,0.065,'k'),(0.08,0.08,'k'),(0.09,0.085,'k'),(0.1,0.1,'k'),(0.11,0.1,'k'),(0.12,0.115,'k'),(0.13,0.12,'k'),
    (0.02,0.04,'k'),(0.04,0.02,'k'),(0.06,0.08,'k'),(0.08,0.06,'k'),(0.1,0.08,'k'),(0.12,0.1,'k'),(0.03,0.05,'k'),
    (0.05,0.03,'k'),(0.07,0.09,'k'),(0.09,0.07,'k'),(0.11,0.12,'k'),(0.14,0.13,'k'),(0.15,0.14,'k'),(0.01,0.03,'k'),
    (0.03,0.01,'k'),(0.16,0.16,'k')]

# ----------------------------------------------------------------- style
DOSE_COLORS = ['#3B9AB2', '#78B7C5', '#EBCC2A', '#E1AF00', '#F21A00', '#7E3190', '#000000']
DOSE_PAL = dict(zip(DOSE_CODES, DOSE_COLORS))
PASS_PAL = {'None': '#A9B8E8', 'Both': '#CF9FD6', 'CP Only': '#F7C88A', 'L1000 Only': '#DADADA'}
C_COLORS = {'L1000': '#BAC4E7', 'Both': '#D8AED9', 'Cell Painting': '#F8D9AA'}
STRIP_BG = '#FAFAEE'
EDGE = '#333333'

sns.set_theme(style='white')
plt.rcParams['font.family'] = ['Liberation Sans', 'DejaVu Sans']
plt.rcParams['axes.unicode_minus'] = True

W, H = 1050, 852
fig = plt.figure(figsize=(W / 100, H / 100), dpi=100)


def px_box(x0, y0, x1, y1):
    return [x0 / W, 1 - y1 / H, (x1 - x0) / W, (y1 - y0) / H]


def ftext(x, y, s, **kw):
    fig.text(x / W, 1 - y / H, s, **kw)


def strip(x0, y0, x1, y1, text, rot=0, fs=4.6):
    sa = fig.add_axes(px_box(x0, y0, x1, y1))
    sa.set_facecolor(STRIP_BG)
    sa.set_xticks([]); sa.set_yticks([])
    for s in sa.spines.values():
        s.set_visible(True); s.set_color(EDGE); s.set_linewidth(0.8)
    sa.text(0.5, 0.5, text, ha='center', va='center', rotation=rot, fontsize=fs,
            color='#1A1A1A', transform=sa.transAxes)


def style(ax, xlim, ylim, xmaj, ymaj, xmin, ymin, showx=True, showy=True, fs=4.6, xfmt=None, yfmt=None):
    ax.set_xlim(xlim); ax.set_ylim(ylim)
    ax.set_xticks(xmaj); ax.set_yticks(ymaj)
    ax.set_xticks(xmin, minor=True); ax.set_yticks(ymin, minor=True)
    if xfmt: ax.set_xticklabels([xfmt(v) for v in xmaj])
    if yfmt: ax.set_yticklabels([yfmt(v) for v in ymaj])
    ax.grid(True, which='major', color='#EBEBEB', lw=0.6)
    ax.grid(True, which='minor', color='#F5F5F5', lw=0.35)
    ax.set_axisbelow(True)
    ax.set_facecolor('white')
    ax.tick_params(which='minor', length=0)
    ax.tick_params(which='major', length=2, width=0.5, color=EDGE, labelsize=fs,
                   labelcolor='#4D4D4D', pad=1.5, bottom=showx, left=showy,
                   labelbottom=showx, labelleft=showy)
    for s in ax.spines.values():
        s.set_visible(True); s.set_color(EDGE); s.set_linewidth(0.8)
    ax.set_xlabel(''); ax.set_ylabel('')


# ----------------------------------------------------------------- panel a
a_sets_cp = [a_cp_004, a_cp_012, a_cp_037, a_cp_111, a_cp_333, a_cp_10, a_cp_allstar, a_cp_all]
a_sets_l1 = [a_l1_004, a_l1_012, a_l1_037, a_l1_111, a_l1_333, a_l1_10, a_l1_allstar, a_l1_all]
col_x0 = [40 + i * 68.7 for i in range(8)]
col_w = 64
rows_a = [(21, 111, a_sets_cp, a_pct_cp, 'Cell Painting'), (114, 205, a_sets_l1, a_pct_l1, 'L1000')]
for r, (y0, y1, sets, pcts, rlab) in enumerate(rows_a):
    for i in range(8):
        x0 = col_x0[i]
        ax = fig.add_axes(px_box(x0, y0, x0 + col_w, y1))
        df = pd.DataFrame(sets[i], columns=['cor', 'logp', 'n'])
        sns.scatterplot(data=df, x='cor', y='logp', hue='n', palette='viridis', hue_norm=(2, 185),
                        s=12, alpha=0.75, linewidth=0, legend=False, ax=ax)
        ax.axhline(-np.log10(0.05), color='#2C4FA6', lw=0.9, ls=(0, (4, 2.5)))
        ax.text(0.45, 2.0, pcts[i], fontsize=8, ha='center', va='center', color='#1A1A1A')
        style(ax, (-0.3, 0.82), (-0.175, 3.675), [-0.2, 0.2, 0.6], [0, 1, 2, 3],
              [0.0, 0.4, 0.8], [0.5, 1.5, 2.5, 3.5], showx=(r == 1), showy=(i == 0),
              xfmt=lambda v: f'{v:.1f}'.replace('\u2212', '-'))
        if r == 0:
            strip(x0, 7, x0 + col_w, 21, DOSES[i])
    strip(586, y0, 598, y1, rlab, rot=-90)

ftext(12, 110, 'Non-parametric \u2212log10 p value', rotation=90, ha='center', va='center', fontsize=6.2, color='#1A1A1A')
ftext(312, 225, 'Median pairwise Spearman correlation between\ncompound profiles of the same mechanism of action (MOA)',
      ha='center', va='center', fontsize=6.2, color='#1A1A1A', linespacing=1.25)

# colourbar
cax = fig.add_axes(px_box(613, 95, 624, 163))
cb = fig.colorbar(mpl.cm.ScalarMappable(norm=mpl.colors.Normalize(2, 185), cmap='viridis'), cax=cax)
cb.set_ticks([50, 100, 150])
cb.outline.set_visible(False)
cax.tick_params(labelsize=4.5, length=2, color='white', pad=2, labelcolor='#1A1A1A')
ftext(613, 62, 'Number of\ncompounds\nper MOA', fontsize=5.6, va='top', ha='left', color='#1A1A1A', linespacing=1.15)

# ----------------------------------------------------------------- panel b
b_sets = [b_004, b_012, b_037, b_111, b_333, b_10, b_allstar, b_all]
for i in range(8):
    x0 = col_x0[i]
    ax = fig.add_axes(px_box(x0, 271, x0 + col_w, 358))
    df = pd.DataFrame(b_sets[i], columns=['cp', 'l1', 'grp', 'n'])
    sns.scatterplot(data=df, x='cp', y='l1', hue='grp', hue_order=PASS_LEVELS, palette=PASS_PAL,
                    size='n', sizes=(20, 100), size_norm=(10, 160), alpha=0.75, linewidth=0,
                    legend=False, ax=ax)
    ax.axline((0, 0), slope=1, color='black', lw=0.9, ls=(0, (3, 2)))
    style(ax, (-0.92, 1.18), (-0.34, 1.07), [-0.5, 0.0, 0.5, 1.0], [0.0, 0.4, 0.8],
          [-0.75, -0.25, 0.25, 0.75], [-0.2, 0.2, 0.6, 1.0], showx=True, showy=(i == 0),
          xfmt=lambda v: f'{v:.1f}', yfmt=lambda v: f'{v:.1f}')
    strip(x0, 258, x0 + col_w, 271, DOSES[i])

ftext(13, 315, 'L1000: Median\nMOA Spearman cor.', rotation=90, ha='center', va='center', fontsize=6.0,
      color='#1A1A1A', linespacing=1.1)
ftext(312, 384, 'Cell Painting:\nMedian MOA Spearman correlation', ha='center', va='center', fontsize=6.2,
      color='#1A1A1A', linespacing=1.25)

# ----------------------------------------------------------------- panel c
axc = fig.add_axes(px_box(711, 22, 983, 359))
tot_all = [a + b + c for a, b, c in zip(c_cell_painting, c_both, c_l1000)]
tot_cb = [a + b for a, b in zip(c_cell_painting, c_both)]
sns.barplot(x=DOSES, y=tot_all, color=C_COLORS['L1000'], width=0.5, saturation=1, ax=axc)
sns.barplot(x=DOSES, y=tot_cb, color=C_COLORS['Both'], width=0.5, saturation=1, ax=axc)
sns.barplot(x=DOSES, y=c_cell_painting, color=C_COLORS['Cell Painting'], width=0.5, saturation=1, ax=axc)
for i in range(8):
    axc.text(i, -0.6, str(c_cell_painting[i]), ha='center', va='bottom', fontsize=7.6, color='#1A1A1A')
    axc.text(i, c_cell_painting[i] + c_both[i] / 2, str(c_both[i]), ha='center', va='center', fontsize=7.6, color='#1A1A1A')
    axc.text(i, tot_all[i] - 1.9, str(c_l1000[i]), ha='center', va='center', fontsize=7.6, color='#1A1A1A')
    axc.text(i, tot_all[i] + 1.0, f'Total:\n{c_total_pct[i]} %', ha='center', va='bottom', fontsize=5.2,
             color='#1A1A1A', linespacing=1.45)
style(axc, (-0.63, 7.63), (-7.5, 166.5), list(range(8)), [0, 50, 100, 150], [], [25, 75, 125], fs=4.8)
axc.set_xticklabels(DOSES)
axc.grid(True, which='major', axis='x', color='#EBEBEB', lw=0.6)
ftext(683, 190, 'Number of MOAs over 95% threshold\nof scores from matched null MOA median scores', rotation=90,
      ha='center', va='center', fontsize=6.2, color='#1A1A1A', linespacing=1.1)

# ----------------------------------------------------------------- panels d, e
def precision_panel(x0, x1, pts, labels, lpos, strip_text):
    ax = fig.add_axes(px_box(x0, 424, x1, 830))
    ax.axline((0, 0), slope=1, color='black', lw=1.0, ls=(0, (3, 2)), zorder=1)
    df = pd.DataFrame(pts, columns=['cp', 'l1', 'dose'])
    sns.scatterplot(data=df, x='cp', y='l1', hue='dose', hue_order=DOSE_CODES, palette=DOSE_PAL,
                    s=15, alpha=0.85, linewidth=0, legend=False, ax=ax, zorder=2)
    dl = pd.DataFrame(labels, columns=['cp', 'l1', 'dose', 'text'])
    sns.scatterplot(data=dl, x='cp', y='l1', hue='dose', hue_order=DOSE_CODES, palette=DOSE_PAL,
                    s=17, alpha=0.9, linewidth=0, legend=False, ax=ax, zorder=3)
    for (x, y, d, t), (tx, ty) in zip(labels, lpos):
        c = DOSE_PAL[d]
        ax.annotate(t, xy=(x, y), xytext=(tx, ty), fontsize=6.8, style='italic', color=c,
                    ha='center', va='center', zorder=4,
                    arrowprops=dict(arrowstyle='->', color=c, lw=0.8, shrinkA=1, shrinkB=1.5,
                                    mutation_scale=6))
    ticks = [0.0, 0.2, 0.4, 0.6, 0.8, 1.0]
    minors = [0.1, 0.3, 0.5, 0.7, 0.9, 1.1]
    style(ax, (-0.063, 1.26), (-0.058, 1.26), ticks, ticks, minors, minors,
          xfmt=lambda v: f'{v:.1f}', yfmt=lambda v: f'{v:.1f}')
    strip(x0, 410, x1, 424, strip_text, fs=4.8)
    return ax


precision_panel(39, 461, d_points, d_labels, d_label_pos, 'Compound mechanism of action (MOA)')
precision_panel(561, 976, e_points, e_labels, e_label_pos, 'Gene target')
for cx in (250, 768):
    ftext(cx, 846, 'Cell Painting average precision', ha='center', va='center', fontsize=6.2, color='#1A1A1A')
for cx in (14, 537):
    ftext(cx, 627, 'L1000 average precision', rotation=90, ha='center', va='center', fontsize=6.2, color='#1A1A1A')

# ----------------------------------------------------------------- legends (overlay in pixel space)
ov = fig.add_axes([0, 0, 1, 1])
ov.set_xlim(0, W); ov.set_ylim(H, 0); ov.axis('off')

# b size legend
ftext(613, 245, 'Number of\ncompounds', fontsize=5.6, va='top', ha='left', color='#1A1A1A', linespacing=1.15)
for yy, n in zip([276, 289, 302], [50, 100, 150]):
    ov.scatter([618], [yy], s=20 + (n - 10) / 150 * 80, color='#444444', linewidth=0)
    ov.text(629, yy, str(n), fontsize=4.5, va='center', ha='left', color='#1A1A1A')
ov.plot([624, 624], [270, 308], color='#444444', lw=0.4)
ftext(613, 333, 'Pass null\nthreshold', fontsize=5.6, va='top', ha='left', color='#1A1A1A', linespacing=1.15)
for yy, g in zip([356, 362.5, 369, 375.5], PASS_LEVELS):
    ov.scatter([617], [yy], s=6, color=PASS_PAL[g], linewidth=0)
    ov.text(623, yy, g, fontsize=4.3, va='center', ha='left', color='#1A1A1A')

# c legend
ftext(998, 155, 'MOA\nconsistent\nin assay', fontsize=5.6, va='top', ha='left', color='#1A1A1A', linespacing=1.15)
for (yy, key) in zip([183, 198, 213], ['L1000', 'Both', 'Cell Painting']):
    ov.add_patch(plt.Rectangle((998, yy), 14, 14, color=C_COLORS[key], lw=0))
    ov.text(1016, yy + 7, key, fontsize=4.5, va='center', ha='left', color='#1A1A1A')

# dose legends
for lx in (476, 997):
    ftext(lx, 573, 'Dose', fontsize=6, va='center', ha='left', color='#1A1A1A')
    for k, (code, name) in enumerate(zip(DOSE_CODES, DOSE_NAMES)):
        yy = 588 + k * 15
        ov.scatter([lx + 7], [yy], s=28, color=DOSE_PAL[code], linewidth=0)
        ov.text(lx + 18, yy, name, fontsize=4.3, va='center', ha='left', color='#1A1A1A')

# panel letters
for lx, ly, s in [(3, 5, 'a'), (3, 252, 'b'), (672, 5, 'c'), (3, 407, 'd'), (525, 407, 'e')]:
    ftext(lx, ly, s, fontsize=8, va='center', ha='left', color='#000000')

fig.savefig('out.png', dpi=100)
